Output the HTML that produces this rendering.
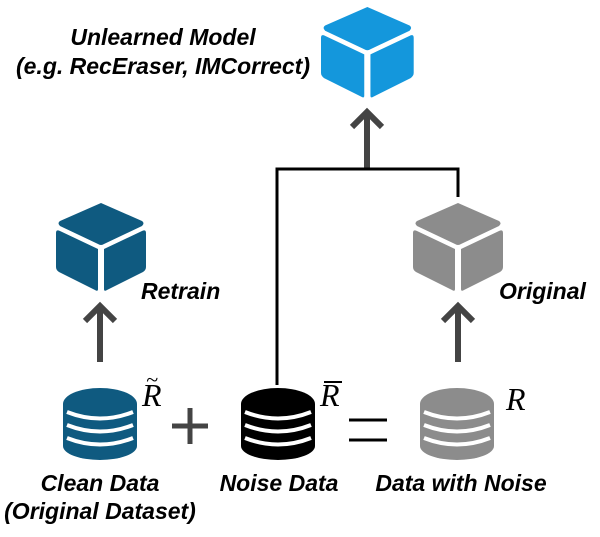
<!DOCTYPE html>
<html><head><style>
body{margin:0;background:#fff;width:600px;height:532px;overflow:hidden}
.t{font-family:"Liberation Sans",sans-serif;font-weight:bold;font-style:italic;font-size:23px;fill:#000}
.r{font-family:"Liberation Serif",serif;font-style:italic;font-size:32px;fill:#000}
</style></head><body>
<svg width="600" height="532" viewBox="0 0 600 532" xmlns="http://www.w3.org/2000/svg">
<defs>
<g id="cube">
<path d="M45,0 L86,18 Q89,20 86,23 L48,41 Q45,43 42,41 L4,23 Q1,20 4,18 Z"/>
<path d="M0,30 Q0,26 4,28 L42,46 L42,86 Q42,89 39,87 L3,69 Q0,67 0,64 Z"/>
<path d="M90,30 Q90,26 86,28 L48,46 L48,86 Q48,89 51,87 L87,69 Q90,67 90,64 Z"/>
</g>
<g id="db">
<path d="M0,17 A37,16 0 0 1 74,17 L74,59 A37,14 0 0 1 0,59 Z"/>
<path d="M4,25 Q37,38 70,25 M4,38 Q37,51 70,38 M4,51 Q37,64 70,51" stroke="#fff" stroke-width="4" fill="none"/>
</g>
<g id="arr"><path d="M0,0 V56 M-15,15 L0,0 L15,15" stroke="#444" stroke-width="6" fill="none"/></g>
</defs>
<g transform="translate(321,7) scale(1.03)"><use href="#cube" fill="#1497dc"/></g>
<use href="#cube" x="56" y="203" fill="#0f5a80"/>
<use href="#cube" x="413" y="203" fill="#8c8c8c"/>
<use href="#arr" x="367" y="112"/>
<use href="#arr" x="100" y="306"/>
<use href="#arr" x="458" y="306"/>
<path d="M277,385 V169 H458 V197" stroke="#000" stroke-width="3" fill="none"/>
<use href="#db" x="63" y="387" fill="#0f5a80"/>
<use href="#db" x="241" y="387" fill="#000"/>
<use href="#db" x="420" y="387" fill="#8c8c8c"/>
<path d="M172,426 H208 M190,408 V444" stroke="#444" stroke-width="5"/>
<path d="M349,420 H387 M349,440 H387" stroke="#000" stroke-width="3"/>
<text class="r" x="142" y="406">R</text><text class="r" x="146" y="387" style="font-size:22px">~</text>
<text class="r" x="320" y="406">R</text><path d="M324,382 H342" stroke="#000" stroke-width="2"/>
<text class="r" x="506" y="410">R</text>
<text class="t" x="163" y="45" text-anchor="middle">Unlearned Model</text>
<text class="t" x="163" y="74" text-anchor="middle">(e.g. RecEraser, IMCorrect)</text>
<text class="t" x="141" y="299">Retrain</text>
<text class="t" x="499" y="299">Original</text>
<text class="t" x="100" y="491" text-anchor="middle">Clean Data</text>
<text class="t" x="100" y="519" text-anchor="middle">(Original Dataset)</text>
<text class="t" x="279" y="491" text-anchor="middle">Noise Data</text>
<text class="t" x="461" y="491" text-anchor="middle">Data with Noise</text>
</svg>
</body></html>
